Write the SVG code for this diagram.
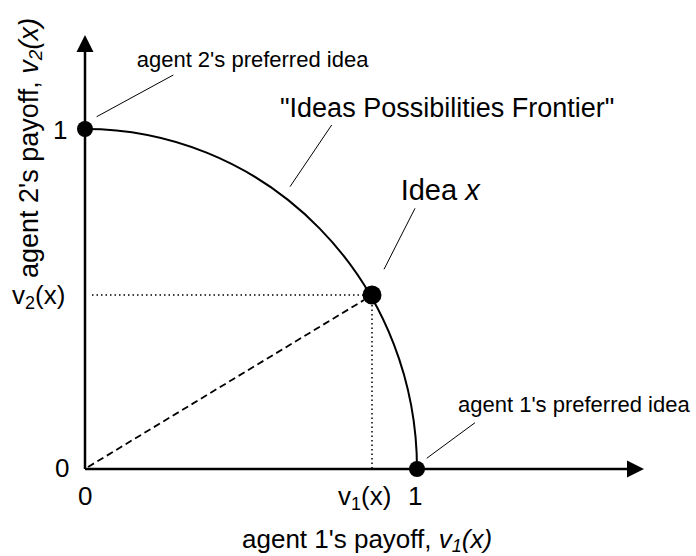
<svg xmlns="http://www.w3.org/2000/svg" width="696" height="556" viewBox="0 0 696 556">
<defs>
<style>
text{font-family:"Liberation Sans",Arial,sans-serif;fill:#000}
.lbl{font-size:22px}
.big{font-size:26px}
.axis{stroke:#000;stroke-width:2.5;fill:none}
.lead{stroke:#000;stroke-width:1;fill:none}
.dot{fill:#000}
</style>
</defs>
<rect width="696" height="556" fill="#fff"/>
<g id="connectors">
<line class="axis" x1="85" y1="469" x2="85" y2="50"/>
<polygon points="85,35 76.5,52 93.5,52" fill="#000"/>
<line class="axis" x1="85" y1="469" x2="629" y2="469"/>
<polygon points="644,469 627,460.5 627,477.5" fill="#000"/>
<path d="M85,129 A332,340 0 0 1 417,469" fill="none" stroke="#000" stroke-width="2"/>
<line x1="88" y1="467" x2="364" y2="300" stroke="#000" stroke-width="1.8" stroke-dasharray="7 4"/>
<line x1="92" y1="295" x2="364" y2="295" stroke="#000" stroke-width="1.5" stroke-dasharray="1.5 3"/>
<line x1="372" y1="305" x2="372" y2="469" stroke="#000" stroke-width="1.5" stroke-dasharray="1.5 3"/>
<line class="lead" x1="96.7" y1="116.7" x2="173.3" y2="75"/>
<line class="lead" x1="331.7" y1="125" x2="290" y2="186.7"/>
<line class="lead" x1="415" y1="208.3" x2="384" y2="269.3"/>
<line class="lead" x1="475" y1="422.7" x2="426.7" y2="458.3"/>
</g>
<g id="agent2-point">
<circle class="dot" cx="85" cy="129" r="8"/>
<text class="lbl" x="136.7" y="67">agent 2's preferred idea</text>
</g>
<g id="agent1-point">
<circle class="dot" cx="417" cy="469" r="8"/>
<text class="lbl" x="458" y="411.7">agent 1's preferred idea</text>
</g>
<g id="idea-x">
<circle class="dot" cx="372" cy="295" r="9.5"/>
<text x="400.7" y="200" font-size="29">Idea <tspan font-style="italic">x</tspan></text>
</g>
<g id="frontier-label">
<text x="280" y="116.7" font-size="27">"Ideas Possibilities Frontier"</text>
</g>
<g id="axis-labels">
<text class="big" x="53" y="139">1</text>
<text class="big" x="55" y="477">0</text>
<text class="big" x="78" y="505">0</text>
<text class="big" x="408" y="505">1</text>
<text class="big" x="12" y="304">v<tspan font-size="18" dy="5">2</tspan><tspan dy="-5">(x)</tspan></text>
<text class="big" x="338" y="505">v<tspan font-size="18" dy="5">1</tspan><tspan dy="-5">(x)</tspan></text>
<text class="big" x="242" y="548">agent 1's payoff, <tspan font-style="italic">v<tspan font-size="18" dy="4">1</tspan><tspan dy="-4">(x)</tspan></tspan></text>
<text font-size="27" transform="translate(38,278) rotate(-90)">agent 2's payoff, <tspan font-style="italic">v<tspan font-size="19" dy="4">2</tspan><tspan dy="-4">(x)</tspan></tspan></text>
</g>
</svg>
